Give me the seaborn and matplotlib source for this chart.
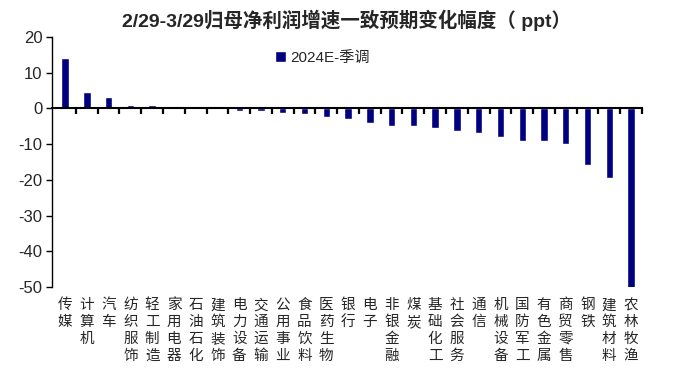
import numpy as np
import pandas as pd
import matplotlib
matplotlib.use('Agg')
import matplotlib.pyplot as plt
import matplotlib.transforms as mtransforms
import seaborn as sns

# 数据
categories = ['传媒', '计算机', '汽车', '纺织服饰', '轻工制造', '家用电器', '石油石化',
              '建筑装饰', '电力设备', '交通运输', '公用事业', '食品饮料', '医药生物',
              '银行', '电子', '非银金融', '煤炭', '基础化工', '社会服务', '通信',
              '机械设备', '国防军工', '有色金属', '商贸零售', '钢铁', '建筑材料', '农林牧渔']
values = [14.2, 4.6, 3.3, 1.0, 1.0, 0.2, 0.1,
          -0.1, -0.7, -0.7, -1.4, -1.5, -2.5,
          -3.0, -4.0, -4.8, -5.0, -5.5, -6.4, -6.8,
          -7.9, -9.0, -9.2, -10.0, -15.9, -19.5, -51.0]
series_name = '2024E-季调'
title = '2/29-3/29归母净利润增速一致预期变化幅度（ ppt）'
y_ticks = [20, 10, 0, -10, -20, -30, -40, -50]

sns.set_style('white')
plt.rcParams['font.family'] = ['Liberation Sans', 'Noto Sans CJK SC', 'DejaVu Sans']
plt.rcParams['axes.unicode_minus'] = False

df = pd.DataFrame({'行业': categories, '变化': values, '系列': series_name})

fig = plt.figure(figsize=(6.97, 3.74), dpi=100)
ax = fig.add_axes([0.0746, 0.2326, 0.8464, 0.6684])

sns.barplot(data=df, x='行业', y='变化', hue='系列', palette=['#000080'],
            width=0.34, dodge=False, ax=ax, saturation=1)

ax.set_ylim(-50, 20)
ax.set_xlim(-0.6, 26.5)
ax.set_yticks(y_ticks)
ax.set_yticklabels([str(v) for v in y_ticks], fontsize=12)
ax.set_xlabel('')
ax.set_ylabel('')

# 坐标轴样式
for s in ['top', 'right']:
    ax.spines[s].set_visible(False)
ax.spines['left'].set_color('black')
ax.spines['left'].set_linewidth(1.0)
ax.spines['bottom'].set_position(('data', 0))
ax.spines['bottom'].set_color('black')
ax.spines['bottom'].set_linewidth(1.5)
ax.tick_params(axis='y', direction='out', length=4, width=1, color='black', left=True, pad=3)
ax.set_xticks([])
ax.set_xticks(np.arange(len(categories)) + 0.5, minor=True)
ax.tick_params(axis='x', which='minor', direction='out', length=4.5, width=1.6,
               color='black', bottom=True)

# 竖排行业标签
trans = mtransforms.blended_transform_factory(ax.transData, ax.transAxes)
for i, name in enumerate(categories):
    ax.text(i, -0.045, '\n'.join(name), transform=trans, ha='center', va='top',
            fontsize=10.5, linespacing=1.25, family=['Noto Sans CJK SC'])

leg = ax.legend(loc='upper left', bbox_to_anchor=(0.355, 1.0), frameon=False,
                fontsize=11, handlelength=0.7, handleheight=0.7, handletextpad=0.3)

fig.suptitle(title, x=0.497, y=0.975, fontsize=14, fontweight='bold')

fig.savefig('out.png', dpi=100)
